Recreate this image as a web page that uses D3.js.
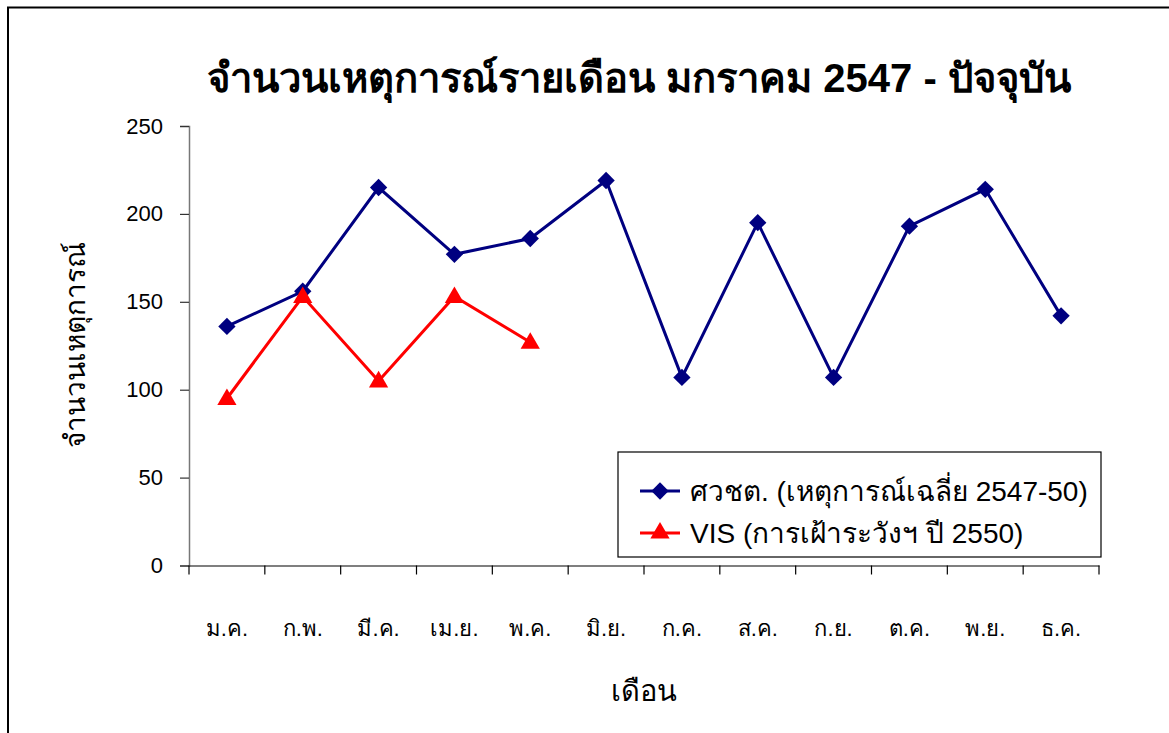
<!DOCTYPE html>
<html>
<head>
<meta charset="utf-8">
<script src="https://cdn.jsdelivr.net/npm/d3@7"></script>
<style>
  body { margin: 0; background: #fff; }
  svg text { font-family: Arial, "Liberation Sans", "Noto Sans", sans-serif; }
</style>
</head>
<body>
<div id="chart"></div>
<script>
var months = ["ม.ค.", "ก.พ.", "มี.ค.", "เม.ย.", "พ.ค.", "มิ.ย.", "ก.ค.", "ส.ค.", "ก.ย.", "ต.ค.", "พ.ย.", "ธ.ค."];
var avgEvents = [136, 156, 215, 177, 186, 219, 107, 195, 107, 193, 214, 142];
var visEvents = [95, 153, 105, 153, 127];
var yTicks = [0, 50, 100, 150, 200, 250];
var seriesNames = ["ศวชต. (เหตุการณ์เฉลี่ย 2547-50)", "VIS (การเฝ้าระวังฯ ปี 2550)"];

var svgWidth = 1169;
var svgHeight = 733;

var margin = { top: 126, left: 189, right: 70, bottom: 167.5 };
var width = svgWidth - margin.left - margin.right;
var height = svgHeight - margin.top - margin.bottom;

var svg = d3.select("#chart")
  .append("svg")
  .attr("width", svgWidth)
  .attr("height", svgHeight);

// outer frame
svg.append("rect")
  .attr("x", 8)
  .attr("y", 7.5)
  .attr("width", svgWidth)
  .attr("height", svgHeight)
  .attr("fill", "none")
  .attr("stroke", "#000")
  .attr("stroke-width", 2);

svg.append("text")
  .attr("x", 639)
  .attr("y", 92)
  .attr("text-anchor", "middle")
  .attr("font-size", 40)
  .attr("font-weight", "bold")
  .text("จำนวนเหตุการณ์รายเดือน มกราคม 2547 - ปัจจุบัน");

var chartGroup = svg.append("g")
  .attr("transform", `translate(${margin.left}, ${margin.top})`);

var xBand = d3.scaleBand()
  .domain(months)
  .range([0, width]);

var yLinearScale = d3.scaleLinear()
  .domain([0, 250])
  .range([height, 0]);

var yAxis = d3.axisLeft(yLinearScale)
  .tickValues(yTicks)
  .tickSize(9)
  .tickPadding(17);

var yG = chartGroup.append("g").call(yAxis);
yG.select(".domain").attr("stroke", "#777").attr("stroke-width", 1.5);
yG.selectAll(".tick line").attr("stroke", "#333").attr("stroke-width", 1.2);
yG.selectAll("text")
  .attr("font-size", 22)
  .attr("font-family", "Arial, 'Liberation Sans', sans-serif")
  .attr("fill", "#000");

// x axis with ticks between categories
var xAxis = d3.axisBottom(xBand).tickSize(0).tickPadding(55);
var xG = chartGroup.append("g")
  .attr("transform", `translate(0, ${height})`)
  .call(xAxis);
xG.select(".domain").attr("stroke", "#000").attr("stroke-width", 1.2);
xG.selectAll("text")
  .attr("font-size", 22)
  .attr("fill", "#000");

chartGroup.append("g")
  .selectAll("line")
  .data(months.concat(["end"]))
  .enter()
  .append("line")
  .attr("x1", (d, i) => i * xBand.step())
  .attr("x2", (d, i) => i * xBand.step())
  .attr("y1", height)
  .attr("y2", height + 9)
  .attr("stroke", "#000")
  .attr("stroke-width", 1.2);

var xc = (d, i) => xBand(months[i]) + xBand.bandwidth() / 2;

var line = d3.line()
  .x((d, i) => xc(d, i))
  .y(d => yLinearScale(d));

chartGroup.append("path")
  .datum(avgEvents)
  .attr("d", line)
  .attr("fill", "none")
  .attr("stroke", "#000080")
  .attr("stroke-width", 3);

chartGroup.append("path")
  .datum(visEvents)
  .attr("d", line)
  .attr("fill", "none")
  .attr("stroke", "#ff0000")
  .attr("stroke-width", 3);

var diamond = d3.symbol().type(d3.symbolSquare).size(150);
var triangle = d3.symbol().type(d3.symbolTriangle).size(160);

chartGroup.selectAll(".dia")
  .data(avgEvents)
  .enter()
  .append("path")
  .attr("class", "dia")
  .attr("d", diamond)
  .attr("transform", (d, i) => `translate(${xc(d, i)}, ${yLinearScale(d)}) rotate(45)`)
  .attr("fill", "#000080");

chartGroup.selectAll(".tri")
  .data(visEvents)
  .enter()
  .append("path")
  .attr("class", "tri")
  .attr("d", triangle)
  .attr("transform", (d, i) => `translate(${xc(d, i)}, ${yLinearScale(d) + 1})`)
  .attr("fill", "#ff0000");

// axis titles
svg.append("text")
  .attr("x", 644)
  .attr("y", 701)
  .attr("text-anchor", "middle")
  .attr("font-size", 29)
  .text("เดือน");

svg.append("text")
  .attr("transform", "translate(85, 345) rotate(-90)")
  .attr("text-anchor", "middle")
  .attr("font-size", 28)
  .text("จำนวนเหตุการณ์");

// legend
var legend = svg.append("g").attr("transform", "translate(618, 452)");
legend.append("rect")
  .attr("width", 483)
  .attr("height", 105)
  .attr("fill", "#fff")
  .attr("stroke", "#000")
  .attr("stroke-width", 1.2);

var legendColors = ["#000080", "#ff0000"];
var legendSymbols = [diamond, triangle];
seriesNames.forEach(function(name, i) {
  var ly = 39 + i * 42;
  legend.append("line")
    .attr("x1", 22).attr("x2", 62)
    .attr("y1", ly).attr("y2", ly)
    .attr("stroke", legendColors[i])
    .attr("stroke-width", 3);
  legend.append("path")
    .attr("d", legendSymbols[i])
    .attr("transform", `translate(42, ${ly}) ${i === 0 ? "rotate(45)" : ""}`)
    .attr("fill", legendColors[i]);
  legend.append("text")
    .attr("x", 72)
    .attr("y", ly + 10)
    .attr("font-size", 28)
    .text(name);
});
</script>
</body>
</html>
